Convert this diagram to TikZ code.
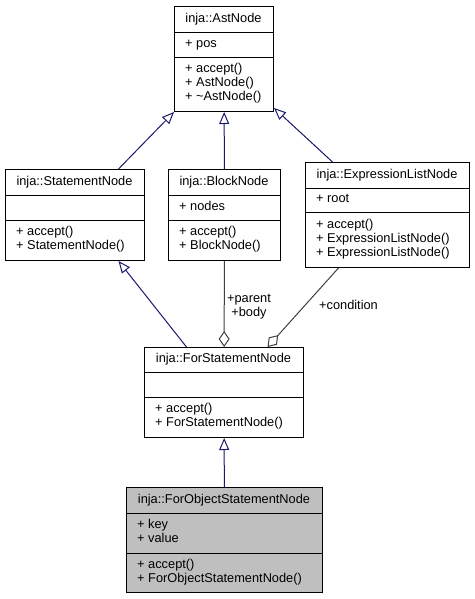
\documentclass[tikz,border=0pt]{standalone}
\usepackage{fontspec}
\setmainfont{Liberation Sans}
\usetikzlibrary{arrows.meta}
\definecolor{edgeblue}{RGB}{25,25,112}
\definecolor{edgegrey}{RGB}{64,64,64}
\definecolor{boxgrey}{RGB}{191,191,191}

\begin{document}
\begin{tikzpicture}
  [x=1pt,y=-1pt,font=\fontsize{12.8}{14}\selectfont,
   box/.style={draw=black,line width=1pt,rectangle,inner sep=0pt,anchor=north west},
   title/.style={inner sep=0pt,execute at begin node=\strut},
   members/.style={inner sep=0pt,anchor=west,align=left,execute at begin node=\strut,execute at end node=\strut},
   inherit/.style={draw=edgeblue,line width=1pt,-{Triangle[open,fill=white,length=12pt,width=10pt]}},
   aggr/.style={draw=edgegrey,line width=1pt,{Diamond[open,fill=white,length=16pt,width=11pt]}-},
   lbl/.style={inner sep=0pt,align=center,execute at begin node=\strut,execute at end node=\strut}]
  \useasboundingbox (0,0) rectangle (474,599);

  % inja::AstNode
  \node[box,minimum width=99pt,minimum height=105pt] (ast) at (174,6) {};
  \draw (174,32) -- (273,32) (174,57) -- (273,57);
  \node[title] (astT) at (223.5,19.5) {inja::AstNode};
  \node[members] (astA) at (185,44.5) {+ pos};
  \node[members] (astM) at (185,84) {+ accept()\\+ AstNode()\\+ \textasciitilde AstNode()};

  % inja::StatementNode
  \node[box,minimum width=139pt,minimum height=91pt] (stmt) at (5,169) {};
  \draw (5,195) -- (144,195) (5,220) -- (144,220);
  \node[title] (stmtT) at (74.5,182.5) {inja::StatementNode};
  \node[members] (stmtM) at (16,240) {+ accept()\\+ StatementNode()};

  % inja::BlockNode
  \node[box,minimum width=112pt,minimum height=91pt] (block) at (168,169) {};
  \draw (168,195) -- (280,195) (168,220) -- (280,220);
  \node[title] (blockT) at (224,182.5) {inja::BlockNode};
  \node[members] (blockA) at (179,207.5) {+ nodes};
  \node[members] (blockM) at (179,240) {+ accept()\\+ BlockNode()};

  % inja::ExpressionListNode
  \node[box,minimum width=164pt,minimum height=105pt] (expr) at (305,162) {};
  \draw (305,188) -- (469,188) (305,212) -- (469,212);
  \node[title] (exprT) at (387,175.5) {inja::ExpressionListNode};
  \node[members] (exprA) at (316,200) {+ root};
  \node[members] (exprM) at (316,239.5) {+ accept()\\+ ExpressionListNode()\\+ ExpressionListNode()};

  % inja::ForStatementNode
  \node[box,minimum width=159pt,minimum height=90pt] (forst) at (144,347) {};
  \draw (144,372) -- (303,372) (144,397) -- (303,397);
  \node[title] (forstT) at (223.5,360) {inja::ForStatementNode};
  \node[members] (forstM) at (155,417) {+ accept()\\+ ForStatementNode()};

  % inja::ForObjectStatementNode
  \node[box,fill=boxgrey,minimum width=196pt,minimum height=105pt] (forobj) at (126,487) {};
  \draw (126,513) -- (322,513) (126,553) -- (322,553);
  \node[title] (forobjT) at (224,500.5) {inja::ForObjectStatementNode};
  \node[members] (forobjA) at (137,533) {+ key\\+ value};
  \node[members] (forobjM) at (137,572.5) {+ accept()\\+ ForObjectStatementNode()};

  % connectors
  \draw[inherit] ([xshift=43.5pt]stmt.north) -- (ast.south west);
  \draw[inherit] (block) -- (ast);
  \draw[inherit] ([xshift=-55pt]expr.north) -- ([yshift=4pt]ast.south east);
  \draw[inherit] ([xshift=-37.5pt]forst.north) -- ([xshift=43.5pt]stmt.south);
  \draw[aggr] (forst) -- (block);
  \draw[aggr] ([xshift=43.5pt]forst.north) -- ([xshift=-49pt]expr.south);
  \draw[inherit] (forobj) -- (forst);

  \node[lbl] (blockL) at (249,307) {+parent\\+body};
  \node[lbl] (exprL) at (348.5,306.5) {+condition};

\end{tikzpicture}
\end{document}
